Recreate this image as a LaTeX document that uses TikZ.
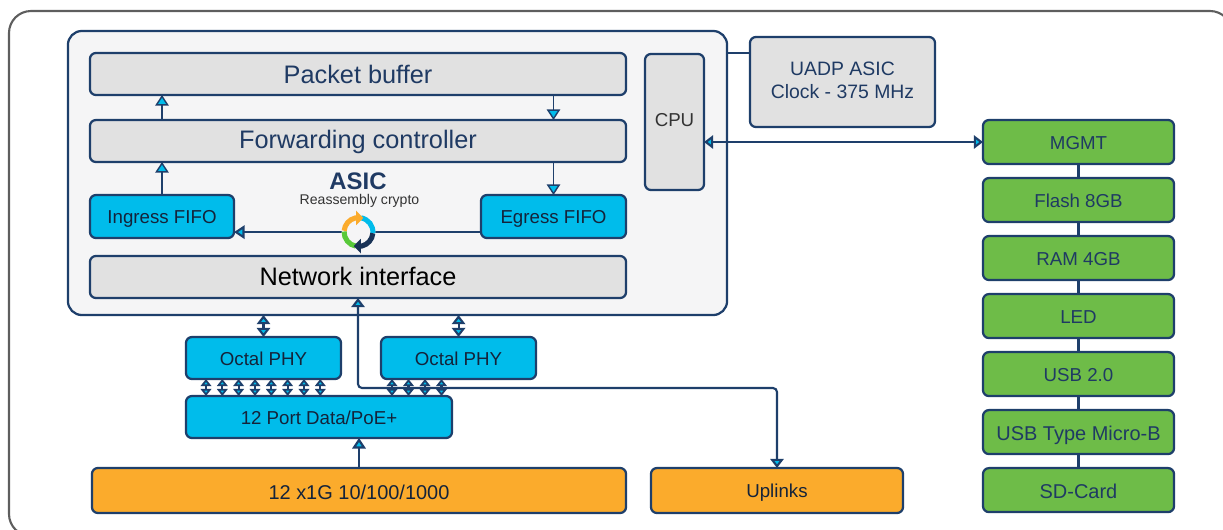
\documentclass[tikz,border=0pt]{standalone}
\usepackage{fontspec}
\setmainfont{Liberation Sans}
\usetikzlibrary{positioning, arrows.meta}
\definecolor{navyline}{HTML}{1E3F6B}
\definecolor{navytext}{HTML}{1F3A63}
\definecolor{inktext}{HTML}{14233A}
\definecolor{frameline}{HTML}{5E5E5E}
\definecolor{asicback}{HTML}{F5F5F6}
\definecolor{greyfill}{HTML}{E1E1E1}
\definecolor{cyanfill}{HTML}{00BCEB}
\definecolor{greenfill}{HTML}{6EBC48}
\definecolor{orangefill}{HTML}{FBAB2C}
\tikzset{
    boxnode/.style={draw=navyline, line width=1.6pt, rounded corners=0.15cm, align=center, inner sep=0pt, outer sep=0pt, text depth=0pt},
    labelfont/.style={font=\fontsize{13.3}{15}\selectfont, text height=10.6pt},
    biglabel/.style={font=\fontsize{14.2}{16}\selectfont, text height=12.4pt},
    greybox/.style={boxnode, fill=greyfill, text=navytext},
    cyanbox/.style={boxnode, labelfont, fill=cyanfill, text=inktext},
    greenbox/.style={boxnode, labelfont, fill=greenfill, text=navytext, minimum width=4.775cm, minimum height=1.1cm},
    orangebox/.style={boxnode, labelfont, fill=orangefill, text=inktext, minimum height=1.125cm},
    wide/.style={minimum width=13.4cm, minimum height=1.05cm, font=\fontsize{18}{20}\selectfont, text height=13pt},
    conn/.style={draw=navyline, line width=1.5pt},
    thinconn/.style={draw=navyline, line width=1pt},
    tipbig/.style={-{Triangle[length=7.5pt, width=9.5pt, fill=cyanfill]}},
    tipboth/.style={{Triangle[length=6.5pt, width=9.5pt, fill=cyanfill]}-{Triangle[length=6.5pt, width=9.5pt, fill=cyanfill]}},
    tipsmall/.style={{Triangle[length=5pt, width=7.5pt, fill=cyanfill]}-{Triangle[length=5pt, width=7.5pt, fill=cyanfill]}},
    ringarc/.style={line width=3.6pt},
    ringtip/.style={-{Triangle[length=5pt, width=10pt]}},
}
\begin{document}
\begin{tikzpicture}[x=0.025cm, y=-0.025cm]
        \clip (0,0) rectangle (1223,529);
        \draw[frameline, line width=1.5pt, rounded corners=0.55cm] (9,11) rectangle (1232,536);

        % asic block
        \node[draw=navyline, line width=1.6pt, rounded corners=0.35cm, fill=asicback, outer sep=0pt, minimum width=16.475cm, minimum height=7.1cm] (asic) at (397.5,173) {};
        \node[greybox, wide] (pkt) at (358,74) {Packet buffer};
        \node[greybox, wide, below=0.625cm of pkt, text height=10pt] (fwd) {Forwarding controller};
        \node[cyanbox, minimum width=3.6cm, minimum height=1.075cm] (ingress) at (162,216.5) {Ingress FIFO};
        \node[cyanbox, minimum width=3.625cm, minimum height=1.075cm] (egress) at (553.5,216.5) {Egress FIFO};
        \node[greybox, wide, text=black, text height=11.6pt] (netif) at (358,277) {Network interface};
        \node[greybox, labelfont, minimum width=1.475cm, minimum height=3.4cm, text=black!80, text height=6.8pt] (cpu) at (674.5,122) {CPU};
        \node[text=navytext, inner sep=0pt, font=\fontsize{17}{19}\selectfont\bfseries] (asictitle) at (358,181) {ASIC};
        \node[text=black!80, inner sep=0pt, font=\fontsize{10}{12}\selectfont] (crypto) at (359.5,201) {Reassembly crypto};

        % clock
        \node[greybox, minimum width=4.625cm, minimum height=2.25cm, text depth=2pt, font=\fontsize{13.8}{16.5}\selectfont] (uadp) at (842.5,82) {UADP ASIC\\Clock - 375 MHz};

        % phy and ports
        \node[cyanbox, minimum width=3.875cm, minimum height=1.05cm] (octal1) at (263.5,358) {Octal PHY};
        \node[cyanbox, right=1cm of octal1, minimum width=3.875cm, minimum height=1.05cm] (octal2) {Octal PHY};
        \node[cyanbox, minimum width=6.65cm, minimum height=1.05cm] (port) at (319,417) {12 Port Data/PoE+};
        \node[orangebox, minimum width=13.35cm, biglabel] (gig) at (359,490.5) {12 x1G 10/100/1000};
        \node[orangebox, minimum width=6.3cm] (uplinks) at (777,490.5) {Uplinks};

        % green stack
        \node[greenbox] (mgmt) at (1078.5,142) {MGMT};
        \node[greenbox, below=0.35cm of mgmt] (flash) {Flash 8GB};
        \node[greenbox, below=0.35cm of flash] (ram) {RAM 4GB};
        \node[greenbox, below=0.35cm of ram] (led) {LED};
        \node[greenbox, below=0.35cm of led] (usb) {USB 2.0};
        \node[greenbox, below=0.35cm of usb, biglabel] (micro) {USB Type Micro-B};
        \node[greenbox, below=0.35cm of micro, biglabel] (sd) {SD-Card};
        \foreach \upper/\lower in {mgmt/flash, flash/ram, ram/led, led/usb, usb/micro, micro/sd}
            \draw[conn] (\upper) -- (\lower);

        % arrows inside asic
        \draw[thinconn, tipbig] (fwd.north -| ingress.north) -- (pkt.south -| ingress.north);
        \draw[thinconn, tipbig] (ingress.north) -- (fwd.south -| ingress.north);
        \draw[thinconn, tipbig] (pkt.south -| egress.north) -- (fwd.north -| egress.north);
        \draw[thinconn, tipbig] (fwd.south -| egress.north) -- (egress.north);
        \draw[conn, tipbig] ([yshift=-0.39cm]egress.west) -- ([yshift=-0.39cm]ingress.east);

        % crypto ring
        \coordinate (ring) at (358.5,232);
        \fill[asicback] (ring) circle (0.42cm);
        \draw[ringarc, cyanfill] (ring) ++(80:0.36cm) arc (80:-5:0.36cm);
        \draw[ringarc, greenfill!80!green] (ring) ++(178:0.36cm) arc (178:260:0.36cm);
        \draw[ringarc, orangefill, ringtip] (ring) ++(175:0.36cm) arc (175:103:0.36cm) -- ++(0.2cm,0);
        \draw[ringarc, navyline!80!black, ringtip] (ring) ++(-5:0.36cm) arc (-5:-77:0.36cm) -- ++(-0.2cm,0);

        % outside connectors
        \coordinate (busrow) at (358,388);
        \draw[conn, tipboth, rounded corners=0.1cm] (netif.south) -- (busrow) -- (busrow -| uplinks.north) -- (uplinks.north);
        \draw[conn, tipboth] (octal1.north) -- (asic.south -| octal1.north);
        \draw[conn, tipboth] (octal2.north) -- (asic.south -| octal2.north);
        \foreach \xport in {206,222.3,238.6,255,271.3,287.6,304,320.3}
            \draw[conn, tipsmall] (\xport,0 |- octal1.south) -- (\xport,0 |- port.north);
        \foreach \xport in {392,408.5,425,441.5}
            \draw[conn, tipsmall] (\xport,0 |- octal2.south) -- (\xport,0 |- port.north);
        \draw[conn, tipbig] (gig.north) -- (port.south -| gig.north);
        \draw[conn, tipboth] (cpu.east |- mgmt.west) -- (mgmt.west);
        \draw[thinconn] (asic.east |- pkt.north) -- (uadp.west |- pkt.north);
    \end{tikzpicture}
\end{document}
